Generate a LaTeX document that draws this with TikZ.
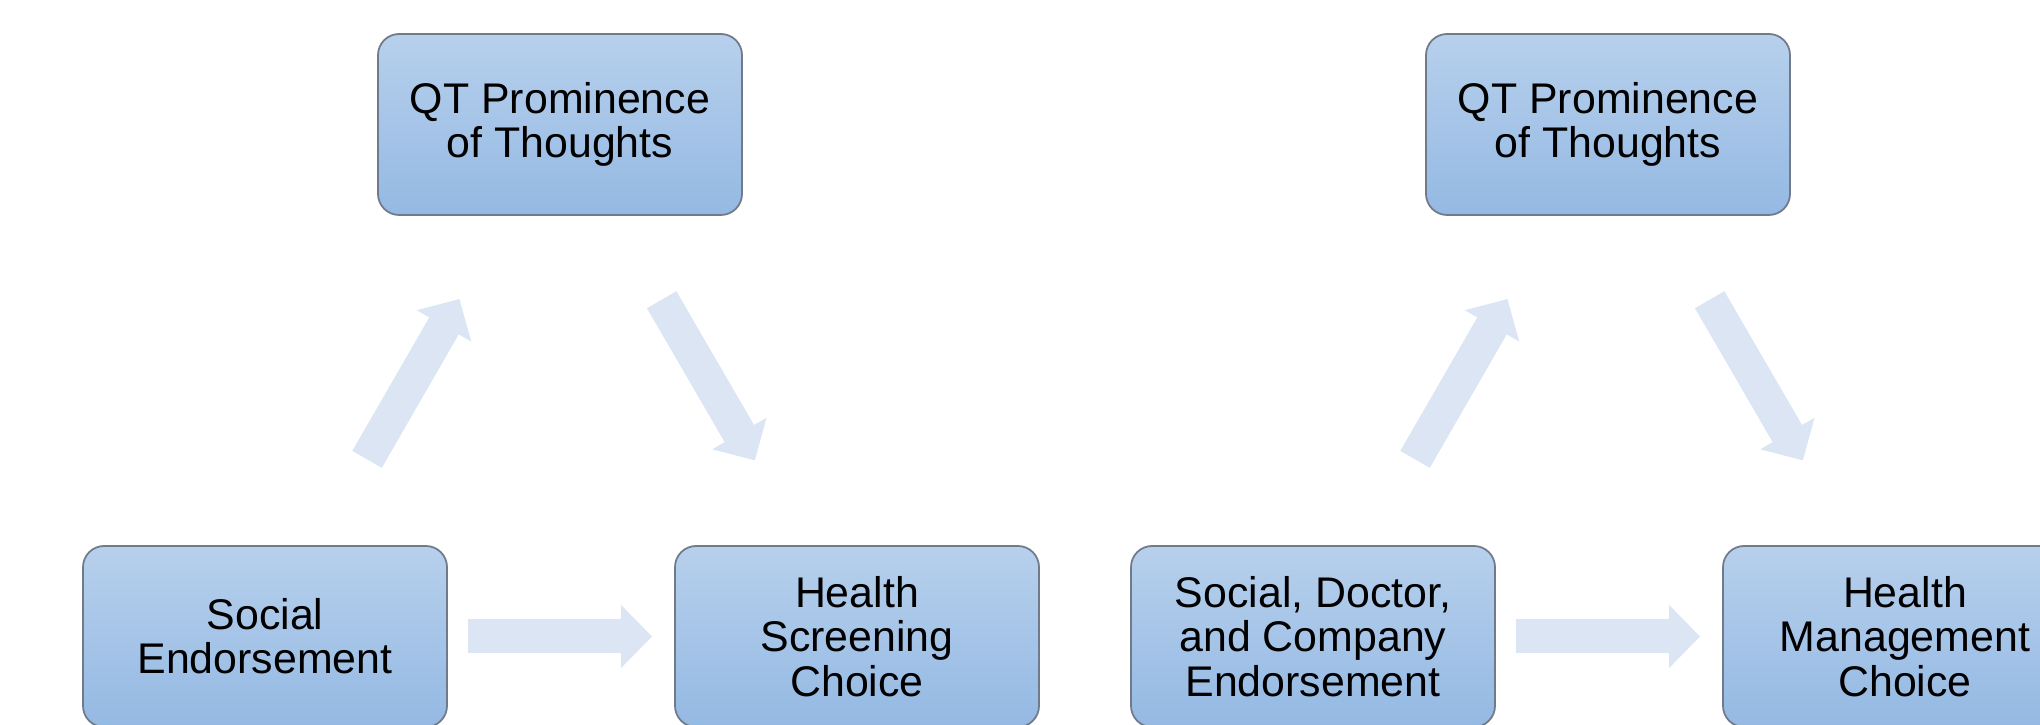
\documentclass[tikz,border=0pt]{standalone}
\usepackage{fontspec}
\setmainfont{Liberation Sans}
\usepackage{tikz}
\usetikzlibrary{arrows.meta}

\definecolor{boxtop}{RGB}{183,208,236}
\definecolor{boxbot}{RGB}{148,185,227}
\definecolor{boxline}{RGB}{112,122,138}
\definecolor{flow}{RGB}{219,229,243}

\begin{document}
\begin{tikzpicture}[
  box/.style={draw=boxline, line width=0.5pt, rounded corners=6pt,
    top color=boxtop, bottom color=boxbot,
    minimum width=3.64cm, minimum height=1.81cm, inner sep=0pt,
    align=center, font=\fontsize{12.2pt}{12.6pt}\selectfont},
  flowarrow/.style={draw=flow, line width=0.34cm,
    -{Triangle[length=0.31cm, width=0.61cm]}},
  rise/.style={flowarrow, shorten <=0.99cm, shorten >=0.96cm},
  fall/.style={flowarrow, shorten <=0.97cm, shorten >=0.98cm},
  across/.style={flowarrow, shorten <=0.20cm, shorten >=0.22cm},
]
\clip (0,0) rectangle (20.4,7.25);
% screening model
\node[box] (qt1)  at (5.60, 6.005) {QT Prominence\\of Thoughts};
\node[box] (soc1) at (2.65, 0.885) {Social\\Endorsement};
\node[box] (scr1) at (8.57, 0.885) {Health\\Screening\\Choice};
% management model
\node[box] (qt2)  at (16.08, 6.005) {QT Prominence\\of Thoughts};
\node[box] (soc2) at (13.13, 0.885) {Social, Doctor,\\and Company\\Endorsement};
\node[box] (man2) at (19.05, 0.885) {Health\\Management\\Choice};
% block arrows
\draw[rise]   (soc1) -- (qt1);
\draw[fall]   (qt1) -- (scr1);
\draw[across] (soc1) -- (scr1);
\draw[rise]   (soc2) -- (qt2);
\draw[fall]   (qt2) -- (man2);
\draw[across] (soc2) -- (man2);
\end{tikzpicture}
\end{document}
